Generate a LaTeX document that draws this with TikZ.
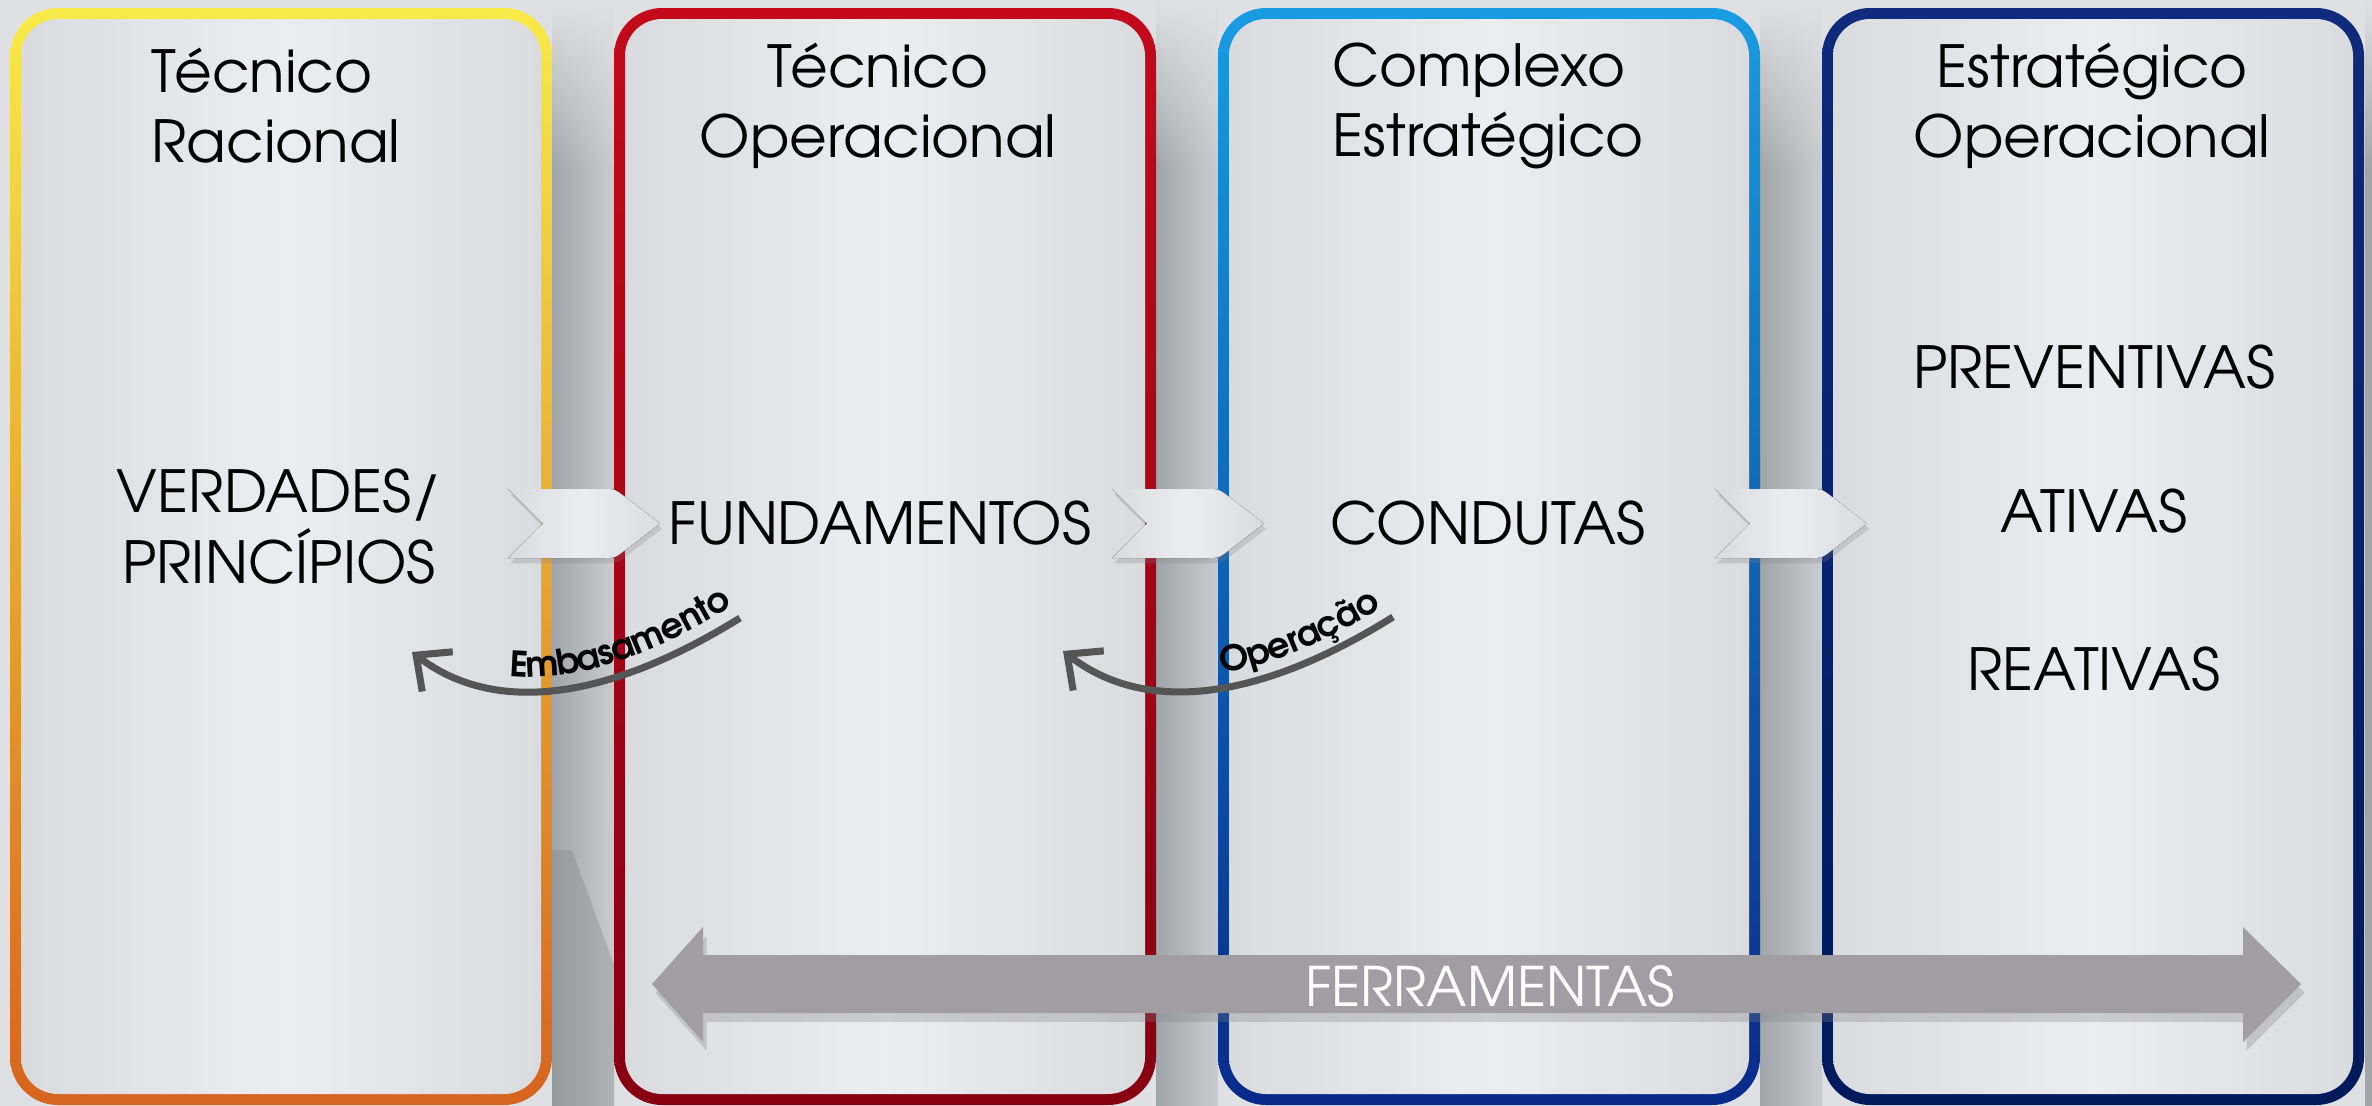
\documentclass[tikz,border=0pt]{standalone}
\usepackage{fontspec}
\setmainfont{texgyreadventor}[Extension=.otf, UprightFont=*-regular, BoldFont=*-bold]
\usepackage{tikz}
\usetikzlibrary{arrows.meta, decorations.text, fadings, shadows}
\definecolor{backdrop}{RGB}{223,224,227}
\definecolor{gapdark}{RGB}{160,165,170}
\definecolor{gaplight}{RGB}{201,204,207}
\definecolor{paneledge}{RGB}{218,219,223}
\definecolor{panelmid}{RGB}{236,237,240}
\definecolor{tryellow}{RGB}{247,234,71}
\definecolor{trorange}{RGB}{214,100,31}
\definecolor{trred}{RGB}{196,10,26}
\definecolor{trdarkred}{RGB}{134,0,18}
\definecolor{trlightblue}{RGB}{24,156,226}
\definecolor{trdarkblue}{RGB}{8,42,138}
\definecolor{trnavy}{RGB}{16,42,124}
\definecolor{trdarknavy}{RGB}{0,26,92}
\definecolor{arrowgray}{RGB}{160,158,163}
\definecolor{curvegray}{RGB}{85,85,85}
\tikzstyle{panel-inner}=[rounded corners=0.37cm, left color=paneledge, right color=paneledge, middle color=panelmid]
\tikzstyle{chevron}=[left color=paneledge, right color=paneledge, middle color=panelmid, drop shadow={opacity=0.25, shadow xshift=0.6pt, shadow yshift=-1.5pt}]
\tikzstyle{panel-title}=[font=\fontsize{16.5}{19.9}\selectfont]
\tikzstyle{body-text}=[font=\fontsize{16.5}{20.2}\selectfont, align=center]
\tikzstyle{curve-arrow}=[draw=curvegray, line width=2pt, -{Straight Barb[length=0.27cm, width=0.5cm]}]
\tikzstyle{curve-text}=[decorate, decoration={text along path, raise=4pt}]

\begin{document}
\begin{tikzpicture}[x=0.01cm, y=-0.01cm]
\useasboundingbox (0,0) rectangle (2372,1106);
\fill[backdrop] (0,0) rectangle (2372,1106);

% shadow bands between the panels
\foreach \x in {552,1156,1760}
{
  \shade[left color=gapdark, right color=gaplight] (\x,0) rectangle (\x+62,1106);
}
\fill[gapdark] (2365,0) rectangle (2372,1106);
\fill[gapdark!80!black, opacity=0.35] (552,850) -- (572,850) -- (614,965) -- (614,1106) -- (552,1106) -- cycle;
\fill[backdrop, path fading=south] (0,0) rectangle (2372,170);

% panels: coloured frame, then the light face
\foreach \x/\top/\bottom in {10/tryellow/trorange, 614/trred/trdarkred, 1218/trlightblue/trdarkblue, 1822/trnavy/trdarknavy}
{
  \shade[top color=\top, bottom color=\bottom, rounded corners=0.48cm] (\x,8) rectangle ++(542,1097);
  \shade[panel-inner] (\x+11,19) rectangle ++(520,1075);
}

\node[panel-title, align=left]   (title-racional)     at (276,106)  {Técnico\\Racional};
\node[panel-title, align=center] (title-operacional)  at (878,106)  {Técnico\\Operacional};
\node[panel-title, align=left]   (title-complexo)     at (1488,106) {Complexo\\Estratégico};
\node[panel-title, align=center] (title-estrategico)  at (2092,106) {Estratégico\\Operacional};

% chevrons across the gaps
\foreach \x in {508,1112,1715}
{
  \fill[chevron] (\x,489) -- (\x+95,489) .. controls (\x+107,489) .. (\x+116,496) -- (\x+152,523.5)
    -- (\x+116,551) .. controls (\x+107,558) .. (\x+95,558) -- (\x,558) -- (\x+35,523.5) -- cycle;
}

\node[body-text] (verdades)    at (279,527)  {VERDADES/\\PRINCÍPIOS};
\node[body-text] (fundamentos) at (880,523)  {FUNDAMENTOS};
\node[body-text] (condutas)    at (1488,523) {CONDUTAS};
\node[body-text] (preventivas) at (2094,367) {PREVENTIVAS};
\node[body-text] (ativas)      at (2094,511) {ATIVAS};
\node[body-text] (reativas)    at (2094,669) {REATIVAS};

% curved arrows
\coordinate (emb-start) at (740,618);
\coordinate (emb-end)   at (412,652);
\draw[curve-arrow] (emb-start) .. controls (600,705) and (490,712) .. (emb-end);
\path[curve-text, decoration={text={|\bfseries\fontsize{10}{12}\selectfont|Embasamento}, text align={right, right indent=0pt}}]
  (emb-end) .. controls (490,712) and (600,705) .. (emb-start);

\coordinate (op-start) at (1393,617);
\coordinate (op-end)   at (1063,651);
\draw[curve-arrow] (op-start) .. controls (1252,705) and (1142,712) .. (op-end);
\path[curve-text, decoration={text={|\bfseries\fontsize{10}{12}\selectfont|Operação}, text align={right, right indent=0.05cm}}]
  (op-end) .. controls (1142,712) and (1252,705) .. (op-start);

% tools arrow
\fill[arrowgray, drop shadow={opacity=0.3, shadow xshift=1pt, shadow yshift=-2.5pt}]
  (652,984) -- (703,927) -- (703,955) -- (2243,955) -- (2243,927) -- (2301,984)
  -- (2243,1042) -- (2243,1013) -- (703,1013) -- (703,1042) -- cycle;
\node[font=\fontsize{15.5}{18}\selectfont, text=white] (ferramentas) at (1490,986) {FERRAMENTAS};
\end{tikzpicture}
\end{document}
